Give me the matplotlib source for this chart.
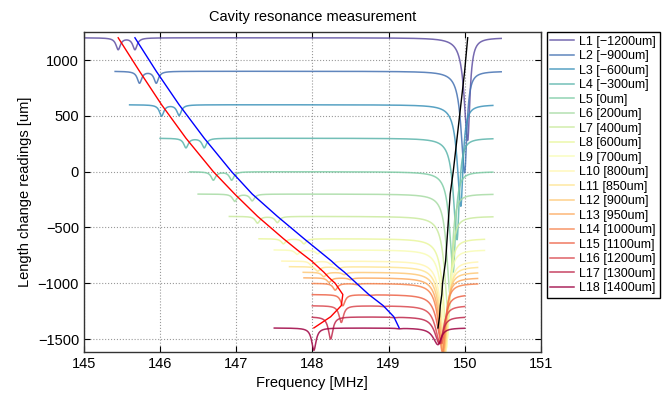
import matplotlib
matplotlib.use('Agg')
import matplotlib.pyplot as plt
import numpy as np

plt.rcParams['font.family'] = ['Liberation Sans', 'DejaVu Sans']

# -------------------- DATA --------------------
labels = ["L1 [−1200um]", "L2 [−900um]", "L3 [−600um]", "L4 [−300um]",
          "L5 [0um]", "L6 [200um]", "L7 [400um]", "L8 [600um]", "L9 [700um]",
          "L10 [800um]", "L11 [850um]", "L12 [900um]", "L13 [950um]",
          "L14 [1000um]", "L15 [1100um]", "L16 [1200um]", "L17 [1300um]",
          "L18 [1400um]"]

# baseline of each trace (length change reading, um)
readings = [1200, 900, 600, 300, 0, -200, -400, -600, -700,
            -800, -850, -900, -950, -1000, -1100, -1200, -1300, -1400]

# frequency span of each sweep (MHz)
f_start = [145.0, 145.41, 145.6, 146.0, 146.39, 146.5, 146.91, 147.3, 147.5,
           147.6, 147.7, 147.88, 147.89, 148.0, 148.0, 148.0, 148.0, 147.5]
f_end = [150.48, 150.48, 150.37, 150.37, 150.37, 150.37, 150.37, 150.26, 150.26,
         150.17, 150.17, 150.17, 150.17, 150.17, 150.0, 150.0, 150.0, 150.0]

# main resonance (black line)
f_main = [150.04, 150.00, 149.95, 149.90, 149.85, 149.81, 149.79, 149.77, 149.76,
          149.75, 149.74, 149.73, 149.72, 149.71, 149.70, 149.68, 149.67, 149.65]
depth_main = [920, 910, 910, 910, 900, 900, 900, 900, 880,
              820, 780, 720, 670, 620, 440, 340, 240, 150]
width_left = [0.055, 0.055, 0.055, 0.055, 0.055, 0.055, 0.06, 0.06, 0.06,
              0.065, 0.065, 0.065, 0.065, 0.065, 0.075, 0.075, 0.075, 0.075]
width_right = [0.035, 0.035, 0.035, 0.035, 0.035, 0.035, 0.04, 0.04, 0.04,
               0.045, 0.045, 0.045, 0.045, 0.045, 0.05, 0.05, 0.05, 0.05]

# first side mode (red line)
f_red = [145.45, 145.73, 146.02, 146.34, 146.70, 146.98, 147.28, 147.62, 147.80,
         147.99, 148.07, 148.15, 148.22, 148.30, 148.40, 148.38, 148.24, 148.02]
depth_red = [105, 105, 100, 85, 75, 65, 60, 45, 40,
             40, 40, 40, 40, 60, 100, 150, 200, 200]

# second side mode (blue line)
f_blue = [145.67, 145.95, 146.25, 146.58, 146.94, 147.21, 147.54, 147.89, 148.07,
          148.25, 148.33, 148.42, 148.50, 148.58, 148.74, 148.93, 149.07, 149.14]
depth_blue = [105, 105, 95, 85, 75, 60, 55, 45, 35,
              30, 25, 20, 15, 10, 5, 5, 5, 5]
side_width = 0.035


def dip(f, f0, depth, g):
    return depth * g ** 2 / ((f - f0) ** 2 + g ** 2)


# -------------------- FIGURE --------------------
fig = plt.figure(figsize=(6.66, 3.96), dpi=100)
ax = fig.add_axes([0.126, 0.111, 0.686, 0.808])

colors = plt.cm.Spectral_r(np.linspace(0, 1, len(readings)))

for i in range(len(readings)):
    f = np.linspace(f_start[i], f_end[i], 3000)
    g = np.where(f < f_main[i], width_left[i], width_right[i])
    y = (readings[i]
         - dip(f, f_main[i], depth_main[i], g)
         - dip(f, f_red[i], depth_red[i], side_width)
         - dip(f, f_blue[i], depth_blue[i], side_width))
    ax.plot(f, y, color=colors[i], lw=1.1, alpha=0.85, label=labels[i])

ax.plot(f_red, readings, color='red', lw=1.0)
ax.plot(f_blue, readings, color='blue', lw=1.0)
ax.plot(f_main, readings, color='black', lw=1.0)

ax.set_xlim(145, 151)
ax.set_ylim(-1616, 1251)
ax.set_xticks(range(145, 152))
ax.set_yticks([-1500, -1000, -500, 0, 500, 1000])

ax.grid(True, linestyle=':', color='#999999', lw=0.8)
ax.tick_params(direction='in', length=4, top=True, right=True, labelsize=10.5)
for s in ax.spines.values():
    s.set_color('#333333')
    s.set_linewidth(1.0)

ax.set_title("Cavity resonance measurement", fontsize=10.5, pad=8)
ax.set_xlabel("Frequency [MHz]", fontsize=10.5)
ax.set_ylabel("Length change readings [um]", fontsize=10.5)

leg = ax.legend(loc='upper left', bbox_to_anchor=(1.013, 1.0), borderaxespad=0,
                fontsize=9, labelspacing=0.2, handlelength=1.9, handletextpad=0.4,
                borderpad=0.3, fancybox=False, framealpha=1)
leg.get_frame().set_edgecolor('black')
leg.get_frame().set_linewidth(1.0)

plt.savefig("out.png", dpi=100)
plt.close()
